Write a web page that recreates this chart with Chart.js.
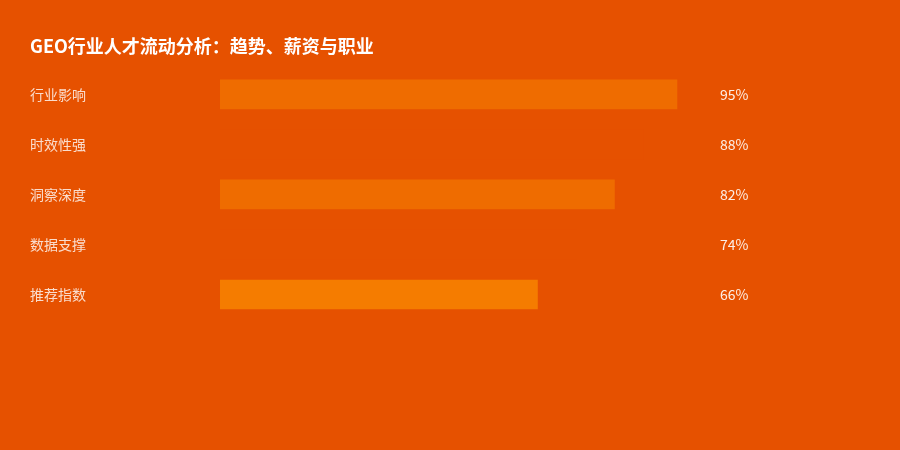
<!DOCTYPE html>
<html>
<head>
<meta charset="utf-8">
<script src="https://cdn.jsdelivr.net/npm/chart.js@4.4.1/dist/chart.umd.min.js"></script>
<style>
  html, body { margin: 0; padding: 0; background: #E65100; }
  #wrap { width: 900px; height: 450px; }
</style>
</head>
<body>
<div id="wrap"><canvas id="talentChart" width="900" height="450"></canvas></div>
<script>
const chartTitle = 'GEO行业人才流动分析：趋势、薪资与职业';
const categories = ['行业影响', '时效性强', '洞察深度', '数据支撑', '推荐指数'];
const values = [95, 88, 82, 74, 66];
const barColors = ['#EF6C00', '#E65100', '#EF6C00', '#E65100', '#F57C00'];

const fontFamily = "'Segoe UI', 'Noto Sans CJK SC', 'Open Sans', sans-serif";

// 在图表右侧画百分比数值
const valueLabels = {
  id: 'valueLabels',
  afterDatasetsDraw(chart) {
    const ctx = chart.ctx;
    const meta = chart.getDatasetMeta(0);
    ctx.save();
    ctx.font = '14px ' + fontFamily;
    ctx.fillStyle = 'rgba(255,255,255,0.9)';
    ctx.textAlign = 'left';
    ctx.textBaseline = 'middle';
    meta.data.forEach((bar, i) => {
      ctx.fillText(values[i] + '%', 720, bar.y);
    });
    ctx.restore();
  }
};

const ctx = document.getElementById('talentChart').getContext('2d');
new Chart(ctx, {
  type: 'bar',
  data: {
    labels: categories,
    datasets: [{
      data: values,
      backgroundColor: barColors,
      borderWidth: 0,
      barThickness: 29
    }]
  },
  options: {
    indexAxis: 'y',
    responsive: false,
    animation: false,
    layout: { padding: { left: 30, right: 199, top: 35, bottom: 130.5 } },
    plugins: {
      legend: { display: false },
      tooltip: { enabled: false },
      title: {
        display: true,
        text: chartTitle,
        align: 'start',
        color: '#FFFFFF',
        font: { family: fontFamily, size: 18, weight: 'bold', lineHeight: 1.2 },
        padding: { top: 0, bottom: 12.8 }
      }
    },
    scales: {
      x: { display: false, min: 0, max: 100 },
      y: {
        grid: { display: false },
        border: { display: false },
        afterFit(scale) { scale.width = 190; },
        ticks: {
          crossAlign: 'far',
          color: 'rgba(255,255,255,0.8)',
          font: { family: fontFamily, size: 14 }
        }
      }
    }
  },
  plugins: [valueLabels]
});
</script>
</body>
</html>
